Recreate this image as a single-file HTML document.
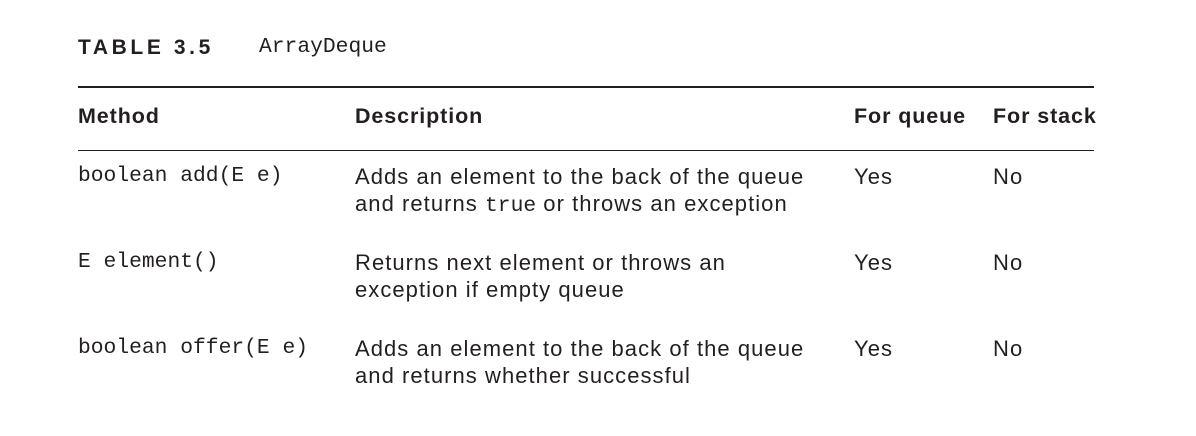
<!DOCTYPE html>
<html><head><style>
body{margin:0;width:1196px;height:436px;background:#fff;position:relative;font-family:"Liberation Sans",sans-serif;color:#231f20;overflow:hidden}
.t{position:absolute;white-space:nowrap;line-height:27px}
.s{font-size:22px;letter-spacing:1.05px}
.m{font-family:"Liberation Mono",monospace;font-size:21.3px;letter-spacing:0}
.b{font-weight:bold;font-size:21.5px;letter-spacing:0.9px}
.ln{position:absolute;left:78px;width:1016px;background:#231f20}
</style></head><body>
<div class="t" style="left:78px;top:34px;font-weight:bold;font-size:21px;letter-spacing:3.6px">TABLE 3.5</div>
<div class="t m" style="left:259px;top:34px">ArrayDeque</div>
<div class="ln" style="top:86px;height:2px"></div>
<div class="t b" style="left:78px;top:103px">Method</div>
<div class="t b" style="left:355px;top:103px">Description</div>
<div class="t b" style="left:854px;top:103px">For queue</div>
<div class="t b" style="left:993px;top:103px">For stack</div>
<div class="ln" style="top:150px;height:1px"></div>

<div class="t m" style="left:78px;top:163px">boolean add(E e)</div>
<div class="t s" style="left:355px;top:163px">Adds an element to the back of the queue<br>and returns <span class="m">true</span> or throws an exception</div>
<div class="t s" style="left:854px;top:163px">Yes</div>
<div class="t s" style="left:993px;top:163px">No</div>

<div class="t m" style="left:78px;top:249px">E element()</div>
<div class="t s" style="left:355px;top:249px">Returns next element or throws an<br>exception if empty queue</div>
<div class="t s" style="left:854px;top:249px">Yes</div>
<div class="t s" style="left:993px;top:249px">No</div>

<div class="t m" style="left:78px;top:335px">boolean offer(E e)</div>
<div class="t s" style="left:355px;top:335px">Adds an element to the back of the queue<br>and returns whether successful</div>
<div class="t s" style="left:854px;top:335px">Yes</div>
<div class="t s" style="left:993px;top:335px">No</div>
</body></html>
